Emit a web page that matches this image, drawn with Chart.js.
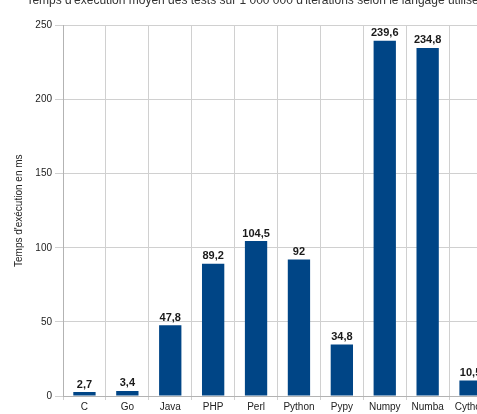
<!DOCTYPE html>
<html>
<head>
<meta charset="utf-8">
<script src="https://cdn.jsdelivr.net/npm/chart.js@4.4.1/dist/chart.umd.min.js"></script>
<style>
  html, body { margin: 0; padding: 0; background: #fff; overflow: hidden; }
  #wrap { position: relative; width: 477px; height: 414px; overflow: hidden; }
  #box { position: absolute; left: 0; top: -11px; width: 505px; height: 427px; }
</style>
</head>
<body>
<div id="wrap"><div id="box"><canvas id="chart"></canvas></div></div>
<script>
const languages = ["C", "Go", "Java", "PHP", "Perl", "Python", "Pypy", "Numpy", "Numba", "Cython"];
const execTimes = [2.7, 3.4, 47.8, 89.2, 104.5, 92, 34.8, 239.6, 234.8, 10.5];
const yTicks = [0, 50, 100, 150, 200, 250];

const FONT = "'Liberation Sans', Arial, sans-serif";

// French decimal comma for the value labels
const frNumber = (v) => String(v).replace(".", ",");

// Writes each bar's value just above it
const valueLabels = {
  id: "valueLabels",
  afterDatasetsDraw(chart) {
    const ctx = chart.ctx;
    const meta = chart.getDatasetMeta(0);
    ctx.save();
    ctx.font = "bold 11px " + FONT;
    ctx.fillStyle = "#1a1a1a";
    ctx.textAlign = "center";
    ctx.textBaseline = "bottom";
    meta.data.forEach((bar, i) => {
      ctx.fillText(frNumber(execTimes[i]), bar.x, bar.y - 2);
    });
    ctx.restore();
  },
};

new Chart(document.getElementById("chart"), {
  type: "bar",
  plugins: [valueLabels],
  data: {
    labels: languages,
    datasets: [{
      data: execTimes,
      backgroundColor: "#004586",
      borderWidth: 0,
      barPercentage: 0.52,
      categoryPercentage: 1,
    }],
  },
  options: {
    responsive: true,
    maintainAspectRatio: false,
    animation: false,
    layout: { padding: { left: 13, right: 13, top: 0, bottom: 2 } },
    plugins: {
      legend: { display: false },
      tooltip: { enabled: false },
      title: {
        display: true,
        text: "Temps d'exécution moyen des tests sur 1 000 000 d'itérations selon le langage utilisé",
        color: "#333",
        font: { family: FONT, size: 12, weight: "normal" },
        padding: { top: 4, bottom: 18 },
      },
    },
    scales: {
      x: {
        grid: { color: "#d0d0d0", tickLength: 4, offset: true },
        border: { color: "#b3b3b3" },
        ticks: {
          color: "#222",
          font: { family: FONT, size: 10 },
          padding: 1,
          maxRotation: 0,
          autoSkip: false,
        },
      },
      y: {
        min: 0,
        max: 250,
        afterBuildTicks: (scale) => { scale.ticks = yTicks.map((v) => ({ value: v })); },
        afterFit: (scale) => { scale.width = 50; },
        grid: { color: "#d0d0d0", tickLength: 8 },
        border: { color: "#b3b3b3" },
        ticks: {
          color: "#222",
          font: { family: FONT, size: 10 },
          padding: 3,
        },
        title: {
          display: true,
          text: "Temps d'exécution en ms",
          color: "#222",
          font: { family: FONT, size: 10 },
          padding: { top: 0, bottom: 2 },
        },
      },
    },
  },
});
</script>
</body>
</html>
